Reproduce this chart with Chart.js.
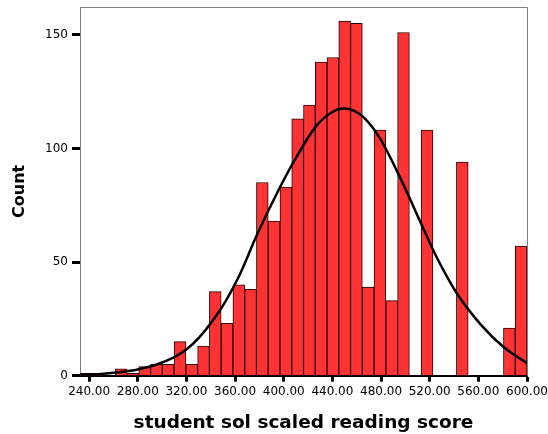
<!DOCTYPE html>
<html>
<head>
<meta charset="utf-8">
<title>student sol scaled reading score</title>
<script src="https://cdn.jsdelivr.net/npm/chart.js@4.4.0/dist/chart.umd.min.js"></script>
<style>
  body { margin: 0; background: #fff; }
  canvas { display: block; }
</style>
</head>
<body>
<canvas id="histogram" width="548" height="434"></canvas>
<script>
// range of the scores (the histogram spans min..max)
const scoreMin = 232.5;
const scoreMax = 600;

// counts per bin, left to right (38 bins)
const binCounts = [1, 1, 0, 3, 1, 4, 5, 5, 15, 5,
                   13, 37, 23, 40, 38, 85, 68, 83, 113, 119,
                   138, 140, 156, 155, 39, 108, 33, 151, 0, 108,
                   0, 0, 94, 0, 0, 0, 21, 57];

// normal curve
const curveScores = [232.5, 250, 265, 280, 295, 310, 320, 330, 342, 353,
                     363, 378, 397, 407, 427, 440, 449, 458, 466, 479,
                     494, 514, 524, 542, 562, 581, 600];
const curveCounts = [0.4, 0.8, 1.5, 2.7, 4.8, 8.2, 11.5, 16.5, 24.5, 33.5,
                     43.5, 62, 83, 93, 110, 116, 117.5, 116.5, 113.5, 104.5,
                     89, 65.7, 54, 36.5, 22.5, 12.5, 5.5];

const xTicks = [240, 280, 320, 360, 400, 440, 480, 520, 560, 600];
const yTicks = [0, 50, 100, 150];
const yMax = 162.2;

const binWidth = (scoreMax - scoreMin) / binCounts.length;
const bars = binCounts.map((c, i) => ({x: scoreMin + binWidth * (i + 0.5), y: c}));
const curve = curveScores.map((s, i) => ({x: s, y: curveCounts[i]}));

// grey top and right edge of the plot box
const frame = {
  id: 'frame',
  beforeDatasetsDraw(chart) {
    const {ctx, chartArea: a} = chart;
    ctx.save();
    ctx.strokeStyle = '#808080';
    ctx.lineWidth = 1;
    ctx.beginPath();
    ctx.moveTo(a.left, a.top + 0.5);
    ctx.lineTo(a.right + 0.5, a.top + 0.5);
    ctx.lineTo(a.right + 0.5, a.bottom);
    ctx.stroke();
    ctx.restore();
  }
};

const tickFont = {family: 'DejaVu Sans', size: 12};

new Chart(document.getElementById('histogram').getContext('2d'), {
  type: 'bar',
  data: {
    datasets: [
      {
        type: 'line',
        data: curve,
        borderColor: '#000',
        borderWidth: 2.5,
        pointRadius: 0,
        fill: false,
        cubicInterpolationMode: 'monotone'
      },
      {
        type: 'bar',
        data: bars,
        backgroundColor: '#ff3333',
        borderColor: '#2a0000',
        borderWidth: 1,
        barPercentage: 1,
        categoryPercentage: 1
      }
    ]
  },
  options: {
    responsive: false,
    animation: false,
    layout: {padding: {top: 7, right: 21, left: 0, bottom: 0}},
    plugins: {legend: {display: false}, tooltip: {enabled: false}},
    scales: {
      x: {
        type: 'linear',
        min: scoreMin,
        max: scoreMax,
        offset: false,
        afterBuildTicks: s => { s.ticks = xTicks.map(v => ({value: v})); },
        afterFit: s => { s.height = 58.3; s.paddingLeft = 0; s.paddingRight = 0; },
        grid: {offset: false, drawOnChartArea: false, color: '#000', tickLength: 6, tickWidth: 3},
        border: {color: '#000', width: 2},
        ticks: {color: '#000', padding: 3, maxRotation: 0, autoSkip: false, font: tickFont,
                callback: v => v.toFixed(2)},
        title: {display: true, text: 'student sol scaled reading score', color: '#000', padding: 0,
                font: {family: 'DejaVu Sans', size: 18.5, weight: 'bold'}}
      },
      y: {
        min: 0,
        max: yMax,
        afterBuildTicks: s => { s.ticks = yTicks.map(v => ({value: v})); },
        afterFit: s => { s.width = 80; s.paddingTop = 0; s.paddingBottom = 0; },
        grid: {drawOnChartArea: false, color: '#000', tickLength: 8, tickWidth: 3},
        border: {color: '#808080', width: 1},
        ticks: {color: '#000', padding: 4, font: tickFont},
        title: {display: true, text: 'Count', color: '#000', padding: {top: 10, bottom: 0},
                font: {family: 'DejaVu Sans', size: 16, weight: 'bold'}}
      }
    }
  },
  plugins: [frame]
});
</script>
</body>
</html>
